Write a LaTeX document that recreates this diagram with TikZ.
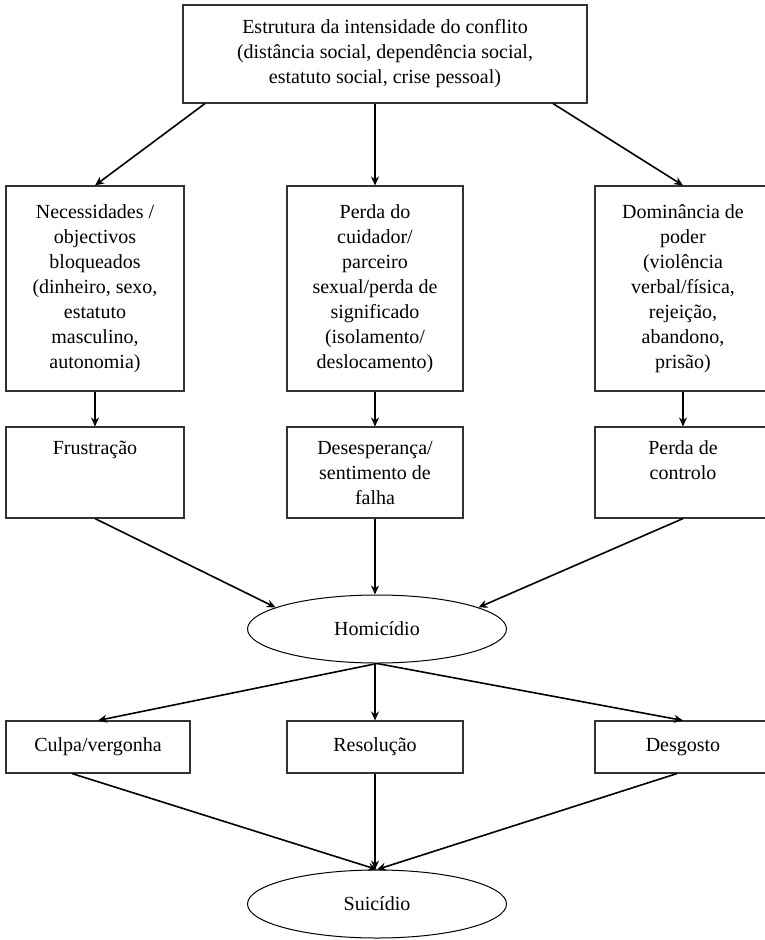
\documentclass[tikz,border=0pt]{standalone}
\usepackage{fontspec}
\setmainfont{Liberation Serif}
\usetikzlibrary{arrows.meta,shapes.geometric}

\begin{document}
\begin{tikzpicture}[
  x=1pt, y=-1pt,
  box/.style={draw=black!80, line width=1.1pt, align=center, font=\fontsize{20}{25}\selectfont, inner sep=0pt, minimum width=176pt},
  tallbox/.style={box, minimum height=205pt},
  midbox/.style={box, minimum height=91pt},
  flatbox/.style={box, minimum height=52pt},
  oval/.style={draw, ellipse, line width=1pt, font=\fontsize{20}{25}\selectfont, inner sep=0pt, minimum width=259pt, minimum height=68pt},
  arrow/.style={-{Stealth[length=9pt,width=8pt]}, line width=1.6pt}
]
\useasboundingbox (0,0) rectangle (765,940);

\node[box, minimum width=404pt, minimum height=98pt] (top) at (385,54) {Estrutura da intensidade do conflito\\(distância social, dependência social,\\estatuto social, crise pessoal)};
\node[tallbox, minimum width=178pt] (need) at (95,288.5) {Necessidades /\\objectivos\\bloqueados\\(dinheiro, sexo,\\estatuto\\masculino,\\autonomia)};
\node[tallbox] (loss) at (375,288.5) {Perda do\\cuidador/\\parceiro\\sexual/perda de\\significado\\(isolamento/\\deslocamento)};
\node[tallbox] (power) at (683,288.5) {Dominância de\\poder\\(violência\\verbal/física,\\rejeição,\\abandono,\\prisão)};
\node[midbox, minimum width=178pt] (frust) at (95,472.5) {Frustração\\~\\~};
\node[midbox] (desp) at (375,472.5) {Desesperança/\\sentimento de\\falha};
\node[midbox] (ctrl) at (683,472.5) {Perda de\\controlo\\~};
\node[oval] (homi) at (377,629) {Homicídio};
\node[flatbox, minimum width=184pt] (culpa) at (98,747) {Culpa/vergonha};
\node[flatbox] (reso) at (375,747) {Resolução};
\node[flatbox] (desg) at (683,747) {Desgosto};
\node[oval] (suic) at (377,904) {Suicídio};

\draw[arrow] ([xshift=-180pt]top.south) -- (need.north);
\draw[arrow] (top.south -| loss.north) -- (loss.north);
\draw[arrow] ([xshift=168pt]top.south) -- (power.north);
\draw[arrow] (need) -- (frust);
\draw[arrow] (loss) -- (desp);
\draw[arrow] (power) -- (ctrl);
\draw[arrow] (frust.south) -- (homi.168);
\draw[arrow] (desp.south) -- (desp.south |- homi.north);
\draw[arrow] (ctrl.south) -- (homi.12);
\draw[arrow] (homi.south) -- (culpa.north);
\draw[arrow] (homi.south -| reso.north) -- (reso.north);
\draw[arrow] (homi.south) -- (desg.north);
\draw[arrow] ([xshift=-26pt]culpa.south) -- (suic.north);
\draw[arrow] (reso.south) -- (reso.south |- suic.north);
\draw[arrow] ([xshift=-6pt]desg.south) -- (suic.north);
\end{tikzpicture}
\end{document}
